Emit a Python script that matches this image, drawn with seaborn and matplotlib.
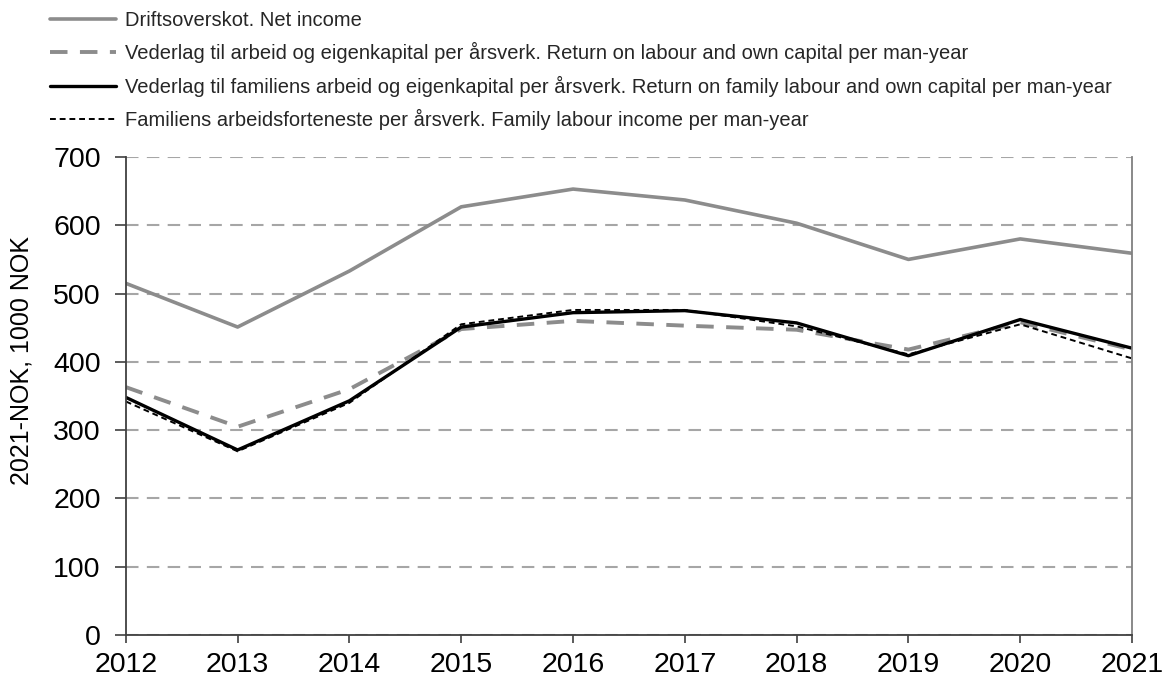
import matplotlib
matplotlib.use("Agg")
import matplotlib.pyplot as plt
import seaborn as sns
import pandas as pd

years = [2012, 2013, 2014, 2015, 2016, 2017, 2018, 2019, 2020, 2021]
net_income = [515, 451, 533, 627, 653, 637, 603, 550, 580, 559]
return_labour_capital = [363, 305, 360, 448, 460, 453, 447, 418, 458, 418]
return_family_labour_capital = [348, 271, 343, 451, 472, 475, 457, 409, 462, 420]
family_labour_income = [342, 269, 340, 455, 476, 476, 452, 411, 455, 405]

labels = [
    "Driftsoverskot. Net income",
    "Vederlag til arbeid og eigenkapital per årsverk. Return on labour and own capital per man-year",
    "Vederlag til familiens arbeid og eigenkapital per årsverk. Return on family labour and own capital per man-year",
    "Familiens arbeidsforteneste per årsverk. Family labour income per man-year",
]
yticks = [0, 100, 200, 300, 400, 500, 600, 700]

sns.set_theme(style="white")
plt.rcParams['font.family'] = ['Liberation Sans', 'DejaVu Sans']

fig = plt.figure(figsize=(11.65, 6.81), dpi=100)
ax = fig.add_axes([0.108, 0.0675, 0.8637, 0.702])

series = [net_income, return_labour_capital, return_family_labour_capital, family_labour_income]
styles = [
    dict(color="#8c8c8c", lw=2.6, ls="-"),
    dict(color="#8c8c8c", lw=2.8, ls=(0, (4.5, 3.2))),
    dict(color="#000000", lw=2.4, ls="-"),
    dict(color="#000000", lw=1.4, ls=(0, (3, 2))),
]
for vals, lab, st in zip(series, labels, styles):
    df = pd.DataFrame({"year": years, "value": vals})
    sns.lineplot(data=df, x="year", y="value", ax=ax, label=lab,
                 color=st["color"], linewidth=st["lw"], linestyle=st["ls"])

ax.set_xlim(years[0], years[-1])
ax.set_ylim(0, 700)
ax.set_xticks(years)
ax.set_xticklabels([str(y) for y in years])
ax.set_yticks(yticks)
ax.set_yticklabels([str(v) for v in yticks])
ax.yaxis.grid(True, color="#a6a6a6", linestyle=(0, (6, 4)), linewidth=1.5)
ax.xaxis.grid(False)
ax.set_axisbelow(True)

for s in ["left", "bottom"]:
    ax.spines[s].set_color("#404040")
    ax.spines[s].set_linewidth(1.3)
ax.spines["right"].set_color("#808080")
ax.spines["right"].set_linewidth(1.3)
ax.spines["top"].set_visible(False)

ax.tick_params(axis="both", which="both", direction="out", width=1.2,
               color="#404040", labelsize=20.5, labelcolor="black",
               left=True, bottom=True)
ax.tick_params(axis="y", length=8, pad=10)
ax.tick_params(axis="x", length=6, pad=6)
ax.set_xlabel("")
ax.set_ylabel("2021-NOK, 1000 NOK", fontsize=18, color="black")
ax.yaxis.set_label_coords(-0.092, 0.575)

handles, labs = ax.get_legend_handles_labels()
ax.get_legend().remove()
fig.legend(handles, labs, loc="upper left", bbox_to_anchor=(0.031, 1.005),
           frameon=False, fontsize=14.5, handlelength=3.25, handletextpad=0.45,
           labelspacing=0.62, borderaxespad=0.3)

fig.savefig("out.png", dpi=100)
